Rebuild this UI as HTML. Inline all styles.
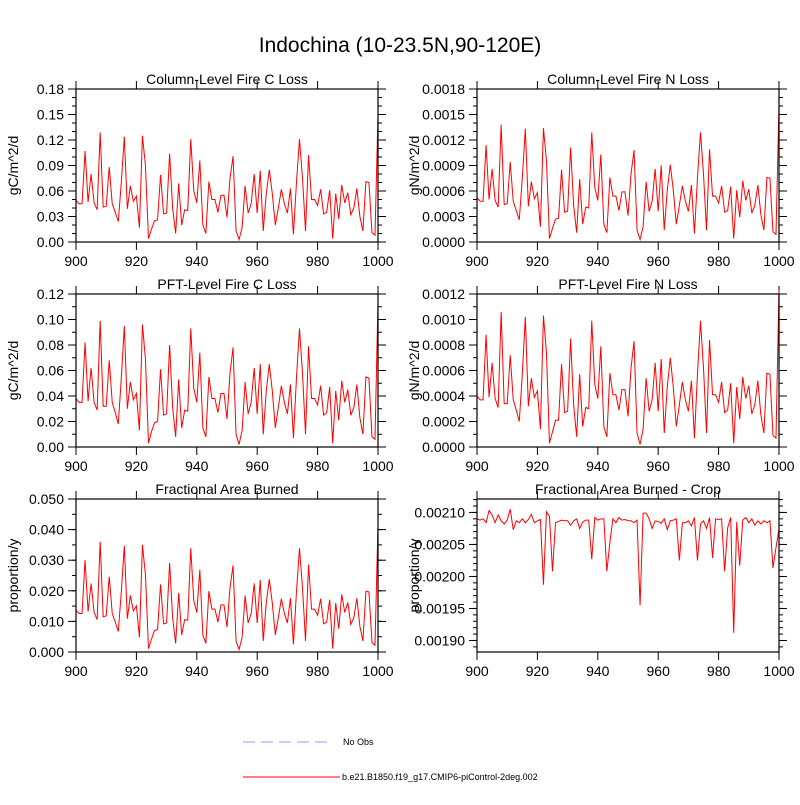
<!DOCTYPE html>
<html><head><meta charset="utf-8"><style>
body{margin:0;background:#fff;}
svg{font-family:"Liberation Sans",sans-serif;}
</style></head><body>
<svg id="chart" width="800" height="800" viewBox="0 0 800 800">
<rect width="800" height="800" fill="#fff"/>
<text x="400" y="52" font-size="21" text-anchor="middle">Indochina (10-23.5N,90-120E)</text>
<g id="panels"></g>
<g>
<line x1="243" y1="742" x2="332" y2="742" stroke="#9999ff" stroke-width="1" stroke-dasharray="12,6"/>
<text x="343" y="745" font-size="9">No Obs</text>
<line x1="243" y1="777" x2="340" y2="777" stroke="#ff0000" stroke-width="1"/>
<text x="342" y="780" font-size="9">b.e21.B1850.f19_g17.CMIP6-piControl-2deg.002</text>
</g>
</svg>
<script>
const startYear = 900;
const xTicks = [900, 920, 940, 960, 980, 1000];
const colCLoss = [.049,.045,.045,.107,.047,.080,.046,.038,.129,.041,.042,.088,.045,.035,.024,.070,.124,.039,.066,.048,.054,.017,.125,.090,.004,.015,.025,.026,.079,.033,.034,.104,.040,.010,.069,.020,.038,.037,.121,.060,.046,.096,.020,.010,.071,.050,.050,.035,.055,.055,.029,.075,.101,.013,.003,.017,.066,.034,.045,.080,.034,.084,.013,.057,.085,.057,.020,.040,.062,.045,.034,.063,.009,.070,.121,.075,.013,.102,.050,.050,.043,.062,.033,.035,.061,.004,.057,.027,.067,.046,.058,.032,.040,.063,.030,.013,.071,.070,.011,.008,.150];
const colNLoss = [5.2e-4,4.8e-4,4.8e-4,11.4e-4,5.0e-4,8.6e-4,4.9e-4,4.1e-4,13.8e-4,4.4e-4,4.5e-4,9.4e-4,4.8e-4,3.7e-4,2.6e-4,7.5e-4,13.3e-4,4.2e-4,7.1e-4,5.1e-4,5.8e-4,1.8e-4,13.4e-4,9.6e-4,0.4e-4,1.6e-4,2.7e-4,2.8e-4,8.5e-4,3.5e-4,3.6e-4,11.1e-4,4.3e-4,1.1e-4,7.4e-4,2.1e-4,4.1e-4,4.0e-4,12.9e-4,6.4e-4,4.9e-4,10.3e-4,2.1e-4,1.1e-4,7.6e-4,5.4e-4,5.4e-4,3.7e-4,5.9e-4,5.9e-4,3.1e-4,8.0e-4,10.8e-4,1.4e-4,0.3e-4,1.8e-4,7.1e-4,3.6e-4,4.8e-4,8.6e-4,3.6e-4,9.0e-4,1.4e-4,6.1e-4,9.1e-4,6.1e-4,2.1e-4,4.3e-4,6.6e-4,4.8e-4,3.6e-4,6.7e-4,1.0e-4,7.5e-4,12.9e-4,8.0e-4,1.4e-4,10.9e-4,5.4e-4,5.4e-4,4.6e-4,6.6e-4,3.5e-4,3.7e-4,6.5e-4,0.4e-4,6.1e-4,2.9e-4,7.2e-4,4.9e-4,6.2e-4,3.4e-4,4.3e-4,6.7e-4,3.2e-4,1.4e-4,7.6e-4,7.5e-4,1.2e-4,0.9e-4,16.1e-4];
const pftCLoss = [.038,.035,.035,.082,.036,.062,.035,.029,.099,.032,.032,.068,.035,.027,.018,.054,.095,.030,.051,.037,.042,.013,.096,.069,.003,.012,.019,.020,.061,.025,.026,.080,.031,.008,.053,.015,.029,.028,.093,.046,.035,.074,.015,.008,.055,.038,.038,.027,.042,.042,.022,.058,.078,.010,.002,.013,.051,.026,.035,.062,.026,.065,.010,.044,.065,.044,.015,.031,.048,.035,.026,.049,.007,.054,.093,.058,.010,.079,.038,.038,.033,.048,.025,.027,.047,.003,.044,.021,.052,.035,.045,.025,.031,.049,.023,.010,.055,.054,.008,.006,.115];
const pftNLoss = [4.0e-4,3.7e-4,3.7e-4,8.8e-4,3.9e-4,6.6e-4,3.8e-4,3.1e-4,10.6e-4,3.4e-4,3.4e-4,7.2e-4,3.7e-4,2.9e-4,2.0e-4,5.7e-4,10.2e-4,3.2e-4,5.4e-4,3.9e-4,4.4e-4,1.4e-4,10.3e-4,7.4e-4,0.3e-4,1.2e-4,2.1e-4,2.1e-4,6.5e-4,2.7e-4,2.8e-4,8.5e-4,3.3e-4,0.8e-4,5.7e-4,1.6e-4,3.1e-4,3.0e-4,9.9e-4,4.9e-4,3.8e-4,7.9e-4,1.6e-4,0.8e-4,5.8e-4,4.1e-4,4.1e-4,2.9e-4,4.5e-4,4.5e-4,2.4e-4,6.2e-4,8.3e-4,1.1e-4,0.2e-4,1.4e-4,5.4e-4,2.8e-4,3.7e-4,6.6e-4,2.8e-4,6.9e-4,1.1e-4,4.7e-4,7.0e-4,4.7e-4,1.6e-4,3.3e-4,5.1e-4,3.7e-4,2.8e-4,5.2e-4,0.7e-4,5.7e-4,9.9e-4,6.2e-4,1.1e-4,8.4e-4,4.1e-4,4.1e-4,3.5e-4,5.1e-4,2.7e-4,2.9e-4,5.0e-4,0.3e-4,4.7e-4,2.2e-4,5.5e-4,3.8e-4,4.8e-4,2.6e-4,3.3e-4,5.2e-4,2.5e-4,1.1e-4,5.8e-4,5.7e-4,0.9e-4,0.7e-4,12.3e-4];
const fracBurned = [.0137,.0126,.0126,.0300,.0132,.0224,.0129,.0106,.0361,.0115,.0118,.0246,.0126,.0098,.0067,.0196,.0347,.0109,.0185,.0134,.0151,.0048,.0350,.0252,.0011,.0042,.0070,.0073,.0221,.0092,.0095,.0291,.0112,.0028,.0193,.0056,.0106,.0104,.0339,.0168,.0129,.0269,.0056,.0028,.0199,.0140,.0140,.0098,.0154,.0154,.0081,.0210,.0283,.0036,.0008,.0048,.0185,.0095,.0126,.0224,.0095,.0235,.0036,.0160,.0238,.0160,.0056,.0112,.0174,.0126,.0095,.0176,.0025,.0196,.0339,.0210,.0036,.0286,.0140,.0140,.0120,.0174,.0092,.0098,.0171,.0011,.0160,.0076,.0188,.0129,.0162,.0090,.0112,.0176,.0084,.0036,.0199,.0196,.0031,.0022,.0420];
const fracBurnedCrop = [.002090,.002088,.002090,.002084,.002103,.002096,.002084,.002096,.002087,.002082,.002088,.002105,.002073,.002087,.002084,.002090,.002084,.002089,.002097,.002084,.002087,.002089,.001987,.002101,.002094,.002008,.002084,.002086,.002088,.002087,.002087,.002080,.002087,.002090,.002075,.002085,.002088,.002088,.002027,.002092,.002088,.002090,.002090,.002008,.002053,.002090,.002084,.002092,.002088,.002089,.002087,.002087,.002084,.002088,.001955,.002099,.002099,.002090,.002075,.002087,.002086,.002083,.002090,.002073,.002087,.002088,.002090,.002025,.002084,.002084,.002087,.002079,.002092,.002025,.002082,.002087,.002075,.002092,.002029,.002090,.002089,.002090,.002008,.002076,.002092,.001912,.002085,.002017,.002088,.002092,.002084,.002090,.002080,.002087,.002082,.002087,.002084,.002087,.002013,.002045,.002074];
const yTicks1 = ["0.00","0.03","0.06","0.09","0.12","0.15","0.18"];
const yTicks2 = ["0.0000","0.0003","0.0006","0.0009","0.0012","0.0015","0.0018"];
const yTicks3 = ["0.00","0.02","0.04","0.06","0.08","0.10","0.12"];
const yTicks4 = ["0.0000","0.0002","0.0004","0.0006","0.0008","0.0010","0.0012"];
const yTicks5 = ["0.000","0.010","0.020","0.030","0.040","0.050"];
const yTicks6 = ["0.00190","0.00195","0.00200","0.00205","0.00210"];

const panels = [
 {name:'col-c-loss',title:'Column-Level Fire C Loss',yl:'gC/m^2/d',data:colCLoss,ticks:yTicks1,ymin:0,ymax:0.18,minor:0.01,x0:76,x1:378,y0:89,y1:242},
 {name:'col-n-loss',title:'Column-Level Fire N Loss',yl:'gN/m^2/d',data:colNLoss,ticks:yTicks2,ymin:0,ymax:0.0018,minor:0.0001,x0:477,x1:779,y0:89,y1:242},
 {name:'pft-c-loss',title:'PFT-Level Fire C Loss',yl:'gC/m^2/d',data:pftCLoss,ticks:yTicks3,ymin:0,ymax:0.12,minor:0.01,x0:76,x1:378,y0:294,y1:447},
 {name:'pft-n-loss',title:'PFT-Level Fire N Loss',yl:'gN/m^2/d',data:pftNLoss,ticks:yTicks4,ymin:0,ymax:0.0012,minor:0.0001,x0:477,x1:779,y0:294,y1:447},
 {name:'frac-burned',title:'Fractional Area Burned',yl:'proportion/y',data:fracBurned,ticks:yTicks5,ymin:0,ymax:0.05,minor:0.005,x0:76,x1:378,y0:499,y1:652},
 {name:'frac-burned-crop',title:'Fractional Area Burned - Crop',yl:'proportion/y',data:fracBurnedCrop,ticks:yTicks6,ymin:0.001882,ymax:0.002121,minor:0.00001,x0:477,x1:779,y0:499,y1:652}
];
const NS='http://www.w3.org/2000/svg';
const root=document.getElementById('panels');
function mk(tag,attrs,parent){const e=document.createElementNS(NS,tag);for(const k in attrs)e.setAttribute(k,attrs[k]);parent.appendChild(e);return e;}
panels.forEach(p=>{
 const g=mk('g',{},root);
 
 
 const sx=v=>p.x0+(v-900)/100*(p.x1-p.x0);
 const sy=v=>p.y1-(v-p.ymin)/(p.ymax-p.ymin)*(p.y1-p.y0);
 const t=mk('text',{x:(p.x0+p.x1)/2,y:p.y0-5,'font-size':14,'text-anchor':'middle'},g);
 t.textContent=p.title;
 
 
 const yl=mk('text',{x:0,y:0,'font-size':14,'text-anchor':'middle',transform:`translate(${p.x0-58},${(p.y0+p.y1)/2}) rotate(-90)`},g);
 yl.textContent=p.yl;
 
 
 for(let v=Math.ceil(p.ymin/p.minor-1e-6)*p.minor; v<=p.ymax+1e-12; v+=p.minor){
  const y=sy(v);
  mk('line',{x1:p.x0-4,x2:p.x0,y1:y,y2:y,stroke:'#000','stroke-width':1},g);
  mk('line',{x1:p.x1,x2:p.x1+4,y1:y,y2:y,stroke:'#000','stroke-width':1},g);
 }
 p.ticks.forEach(s=>{
  const y=sy(parseFloat(s));
  mk('line',{x1:p.x0-8,x2:p.x0,y1:y,y2:y,stroke:'#000','stroke-width':1},g);
  mk('line',{x1:p.x1,x2:p.x1+8,y1:y,y2:y,stroke:'#000','stroke-width':1},g);
  const tl=mk('text',{x:p.x0-12,y:y+5,'font-size':14,'text-anchor':'end'},g);
  tl.textContent=s;
  
  
 });
 xTicks.forEach(v=>{
  const x=sx(v);
  mk('line',{x1:x,x2:x,y1:p.y1,y2:p.y1+8,stroke:'#000','stroke-width':1},g);
  mk('line',{x1:x,x2:x,y1:p.y0-8,y2:p.y0,stroke:'#000','stroke-width':1},g);
  const tl=mk('text',{x:x,y:p.y1+24,'font-size':14,'text-anchor':'middle'},g);
  tl.textContent=String(v);
  
  
 });
 const pts=p.data.map((v,i)=>sx(startYear+i).toFixed(2)+','+sy(v).toFixed(2)).join(' ');
 const line=mk('polyline',{points:pts,fill:'none',stroke:'#ff0000','stroke-width':1},g);
 
 
 const fr=mk('rect',{x:p.x0,y:p.y0,width:p.x1-p.x0,height:p.y1-p.y0,fill:'none',stroke:'#000','stroke-width':1.2},g);
 
 
});
</script>
</body></html>
